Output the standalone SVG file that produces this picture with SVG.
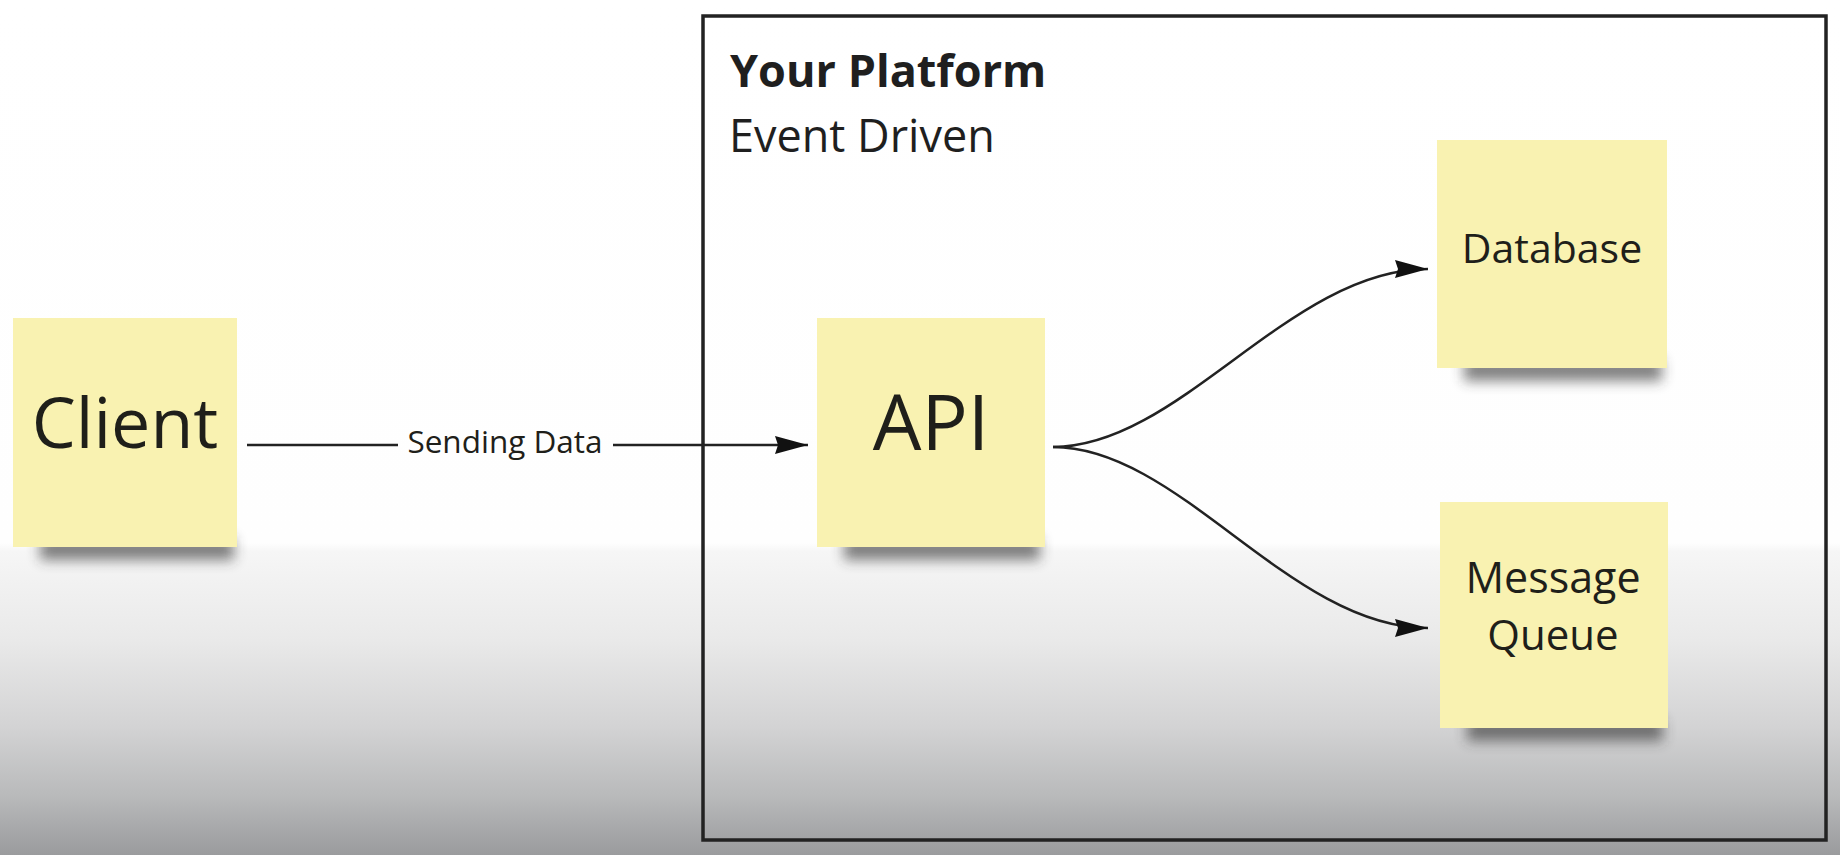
<svg xmlns="http://www.w3.org/2000/svg" width="1840" height="855" viewBox="0 0 1840 855">
  <style>
    .note { fill: #f9f2b1; }
    .shadow { fill: #2e2e2e; filter: url(#blur); opacity: 0.6; }
    .lbl { font-family: "Open Sans", "Liberation Sans", sans-serif; fill: #1f1f1a; text-anchor: middle; }
    .edge { fill: none; stroke: #222; stroke-width: 2.5; }
  </style>
  <defs>
    <linearGradient id="bg" x1="0" y1="0" x2="0" y2="855" gradientUnits="userSpaceOnUse">
      <stop offset="0" stop-color="#ffffff"/>
      <stop offset="0.635" stop-color="#fefefe"/>
      <stop offset="0.645" stop-color="#f6f6f6"/>
      <stop offset="0.75" stop-color="#e9e9e9"/>
      <stop offset="0.85" stop-color="#d3d3d4"/>
      <stop offset="0.93" stop-color="#b9babb"/>
      <stop offset="1" stop-color="#9a9b9d"/>
    </linearGradient>
    <linearGradient id="noteg" x1="0" y1="0" x2="0" y2="1">
      <stop offset="0" stop-color="#fbf4b5"/>
      <stop offset="1" stop-color="#f7efac"/>
    </linearGradient>
    <filter id="blur" x="-20%" y="-150%" width="140%" height="400%">
      <feGaussianBlur stdDeviation="6.5"/>
    </filter>
    <marker id="arrow" viewBox="0 0 33 18" refX="33" refY="9" markerWidth="33" markerHeight="18" markerUnits="userSpaceOnUse" orient="auto">
      <path d="M0,0 L33,9 L0,18 L3,9 Z" fill="#111"/>
    </marker>
  </defs>

  <rect x="0" y="0" width="1840" height="855" fill="url(#bg)"/>

  <g id="platform">
    <rect x="703" y="16" width="1123" height="824" fill="none" stroke="#222" stroke-width="3.5"/>
    <text x="730" y="87" font-family="'Open Sans', 'Liberation Sans', sans-serif" font-weight="700" font-size="45" fill="#1f1f1f">Your Platform</text>
    <text x="729" y="152" font-family="'Open Sans', 'Liberation Sans', sans-serif" font-size="45" fill="#1f1f1f">Event Driven</text>
  </g>

  <g id="client">
    <rect class="shadow" x="40" y="538" width="194" height="22"/>
    <rect class="note" x="13" y="318" width="224" height="229" fill="url(#noteg)"/>
    <text class="lbl" x="125" y="448" font-size="70">Client</text>
  </g>

  <g id="api">
    <rect class="shadow" x="844" y="538" width="196" height="22"/>
    <rect class="note" x="817" y="318" width="228" height="229" fill="url(#noteg)"/>
    <text class="lbl" x="931" y="450" font-size="77">API</text>
  </g>

  <g id="database">
    <rect class="shadow" x="1464" y="359" width="198" height="22"/>
    <rect class="note" x="1437" y="140" width="230" height="228" fill="url(#noteg)"/>
    <text class="lbl" x="1552" y="263" font-size="41">Database</text>
  </g>

  <g id="queue">
    <rect class="shadow" x="1467" y="719" width="196" height="22"/>
    <rect class="note" x="1440" y="502" width="228" height="226" fill="url(#noteg)"/>
    <text class="lbl" x="1553" y="593" font-size="43">Message</text>
    <text class="lbl" x="1553" y="650" font-size="42">Queue</text>
  </g>

  <g id="connectors">
    <path class="edge" d="M247,445 L398,445"/>
    <text class="lbl" x="505" y="453" font-size="31.5">Sending Data</text>
    <path class="edge" d="M613,445 L808,445" marker-end="url(#arrow)"/>
    <path class="edge" d="M1053,447 C1180,447 1290,269 1428,269" marker-end="url(#arrow)"/>
    <path class="edge" d="M1053,447 C1180,447 1290,628 1428,628" marker-end="url(#arrow)"/>
  </g>
</svg>
